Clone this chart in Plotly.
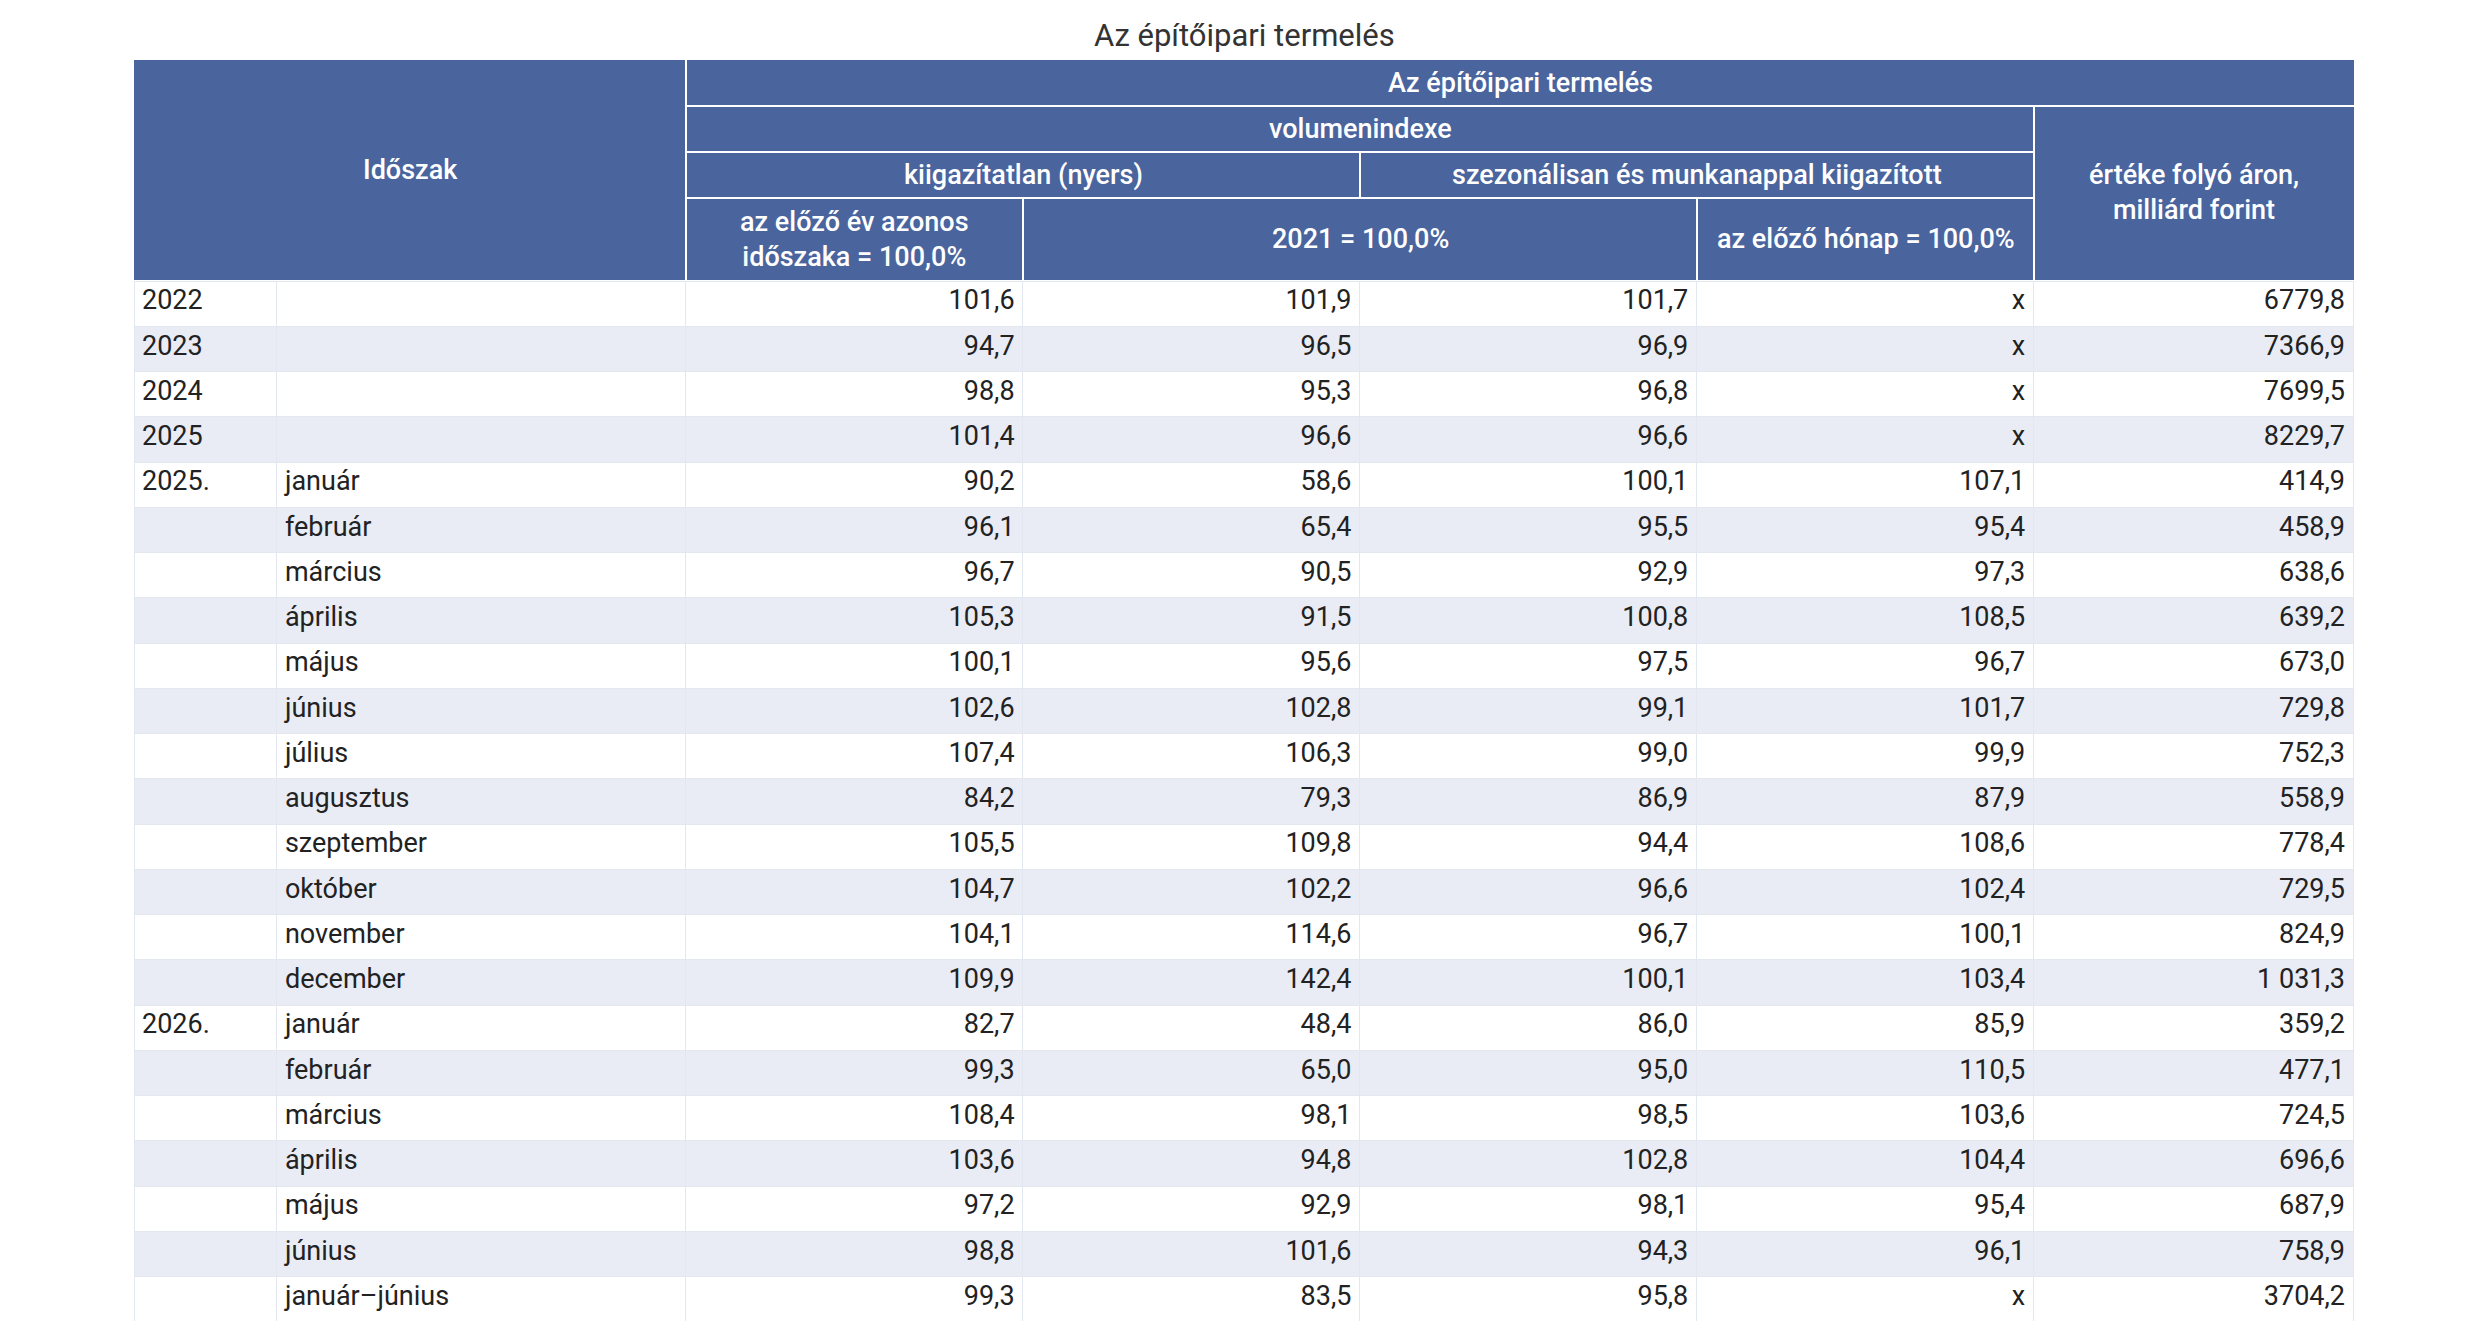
import plotly.graph_objects as go

W, H = 2466, 1334
years = ["2022", "2023", "2024", "2025", "2025.", "", "", "", "", "", "", "", "", "", "", "", "2026.", "", "", "", "", "", ""]
months = ["", "", "", "", "január", "február", "március", "április", "május", "június", "július", "augusztus",
          "szeptember", "október", "november", "december", "január", "február", "március", "április", "május",
          "június", "január–június"]
yoy_raw = ["101,6", "94,7", "98,8", "101,4", "90,2", "96,1", "96,7", "105,3", "100,1", "102,6", "107,4", "84,2",
           "105,5", "104,7", "104,1", "109,9", "82,7", "99,3", "108,4", "103,6", "97,2", "98,8", "99,3"]
base_raw = ["101,9", "96,5", "95,3", "96,6", "58,6", "65,4", "90,5", "91,5", "95,6", "102,8", "106,3", "79,3",
            "109,8", "102,2", "114,6", "142,4", "48,4", "65,0", "98,1", "94,8", "92,9", "101,6", "83,5"]
base_sa = ["101,7", "96,9", "96,8", "96,6", "100,1", "95,5", "92,9", "100,8", "97,5", "99,1", "99,0", "86,9",
           "94,4", "96,6", "96,7", "100,1", "86,0", "95,0", "98,5", "102,8", "98,1", "94,3", "95,8"]
mom_sa = ["x", "x", "x", "x", "107,1", "95,4", "97,3", "108,5", "96,7", "101,7", "99,9", "87,9",
          "108,6", "102,4", "100,1", "103,4", "85,9", "110,5", "103,6", "104,4", "95,4", "96,1", "x"]
value = ["6779,8", "7366,9", "7699,5", "8229,7", "414,9", "458,9", "638,6", "639,2", "673,0", "729,8", "752,3",
         "558,9", "778,4", "729,5", "824,9", "1 031,3", "359,2", "477,1", "724,5", "696,6", "687,9", "758,9",
         "3704,2"]

BLUE = "#4a649e"
OFF = 8
cols = [c - OFF for c in [134, 277, 686, 1023, 1360, 1697, 2034, 2354]]
C = cols
TOP, R1, R2, R3, HB, BOT = [v - OFF for v in (60, 106, 152, 198, 280, 1321)]
n = len(years)
rowh = (BOT - HB) / n

def px(x): return x / W
def py(y): return 1 - y / H

fills = ["#ffffff" if i % 2 == 0 else "#e9ecf5" for i in range(n)]
fig = go.Figure(go.Table(
    domain=dict(x=[px(C[0]), px(C[-1])], y=[py(BOT), py(HB)]),
    columnwidth=[C[i + 1] - C[i] for i in range(7)],
    header=dict(values=[""] * 7, height=1, fill_color="rgba(0,0,0,0)", line=dict(width=0), font=dict(size=1)),
    cells=dict(values=[years, months, yoy_raw, base_raw, base_sa, mom_sa, value],
               align=["left", "left"] + ["right"] * 5, height=rowh,
               fill_color=[fills] * 7, line=dict(color="#e3e7f0", width=1),
               font=dict(family="Roboto", size=27, color="#222222")),
))

shapes = [dict(type="rect", xref="paper", yref="paper", x0=px(C[0]), x1=px(C[-1]),
               y0=py(HB), y1=py(TOP), fillcolor=BLUE, line=dict(width=0), layer="below")]
def ln(x0, y0, x1, y1):
    shapes.append(dict(type="line", xref="paper", yref="paper", x0=px(x0), x1=px(x1), y0=py(y0), y1=py(y1),
                       line=dict(color="white", width=2)))
ln(C[2], TOP, C[2], HB)
ln(C[2], R1, C[7], R1)
ln(C[6], R1, C[6], HB)
ln(C[2], R2, C[6], R2)
ln(C[4], R2, C[4], R3)
ln(C[2], R3, C[6], R3)
ln(C[3], R3, C[3], HB)
ln(C[5], R3, C[5], HB)

ann = []
def txt(t, x0, x1, y0, y1, size=27, color="white", weight=500):
    ann.append(dict(text=t, xref="paper", yref="paper", x=px((x0 + x1) / 2), y=py((y0 + y1) / 2),
                    showarrow=False, xanchor="center", yanchor="middle",
                    font=dict(family="Roboto", size=size, color=color, weight=weight)))
txt("Időszak", C[0], C[2], TOP, HB)
txt("Az építőipari termelés", C[2], C[7], TOP, R1)
txt("volumenindexe", C[2], C[6], R1, R2)
txt("kiigazítatlan (nyers)", C[2], C[4], R2, R3)
txt("szezonálisan és munkanappal kiigazított", C[4], C[6], R2, R3)
txt("értéke folyó áron,<br>milliárd forint", C[6], C[7], R1, HB)
txt("az előző év azonos<br>időszaka = 100,0%", C[2], C[3], R3, HB)
txt("2021 = 100,0%", C[3], C[5], R3, HB)
txt("az előző hónap = 100,0%", C[5], C[6], R3, HB)
txt("Az építőipari termelés", C[0], C[7], 10 - OFF + 2, 56 - OFF + 2, size=31, color="#333333", weight=400)

fig.update_layout(width=W, height=H, margin=dict(l=0, r=0, t=0, b=0), paper_bgcolor="white",
                  shapes=shapes, annotations=ann)
fig.write_html("out.html")
